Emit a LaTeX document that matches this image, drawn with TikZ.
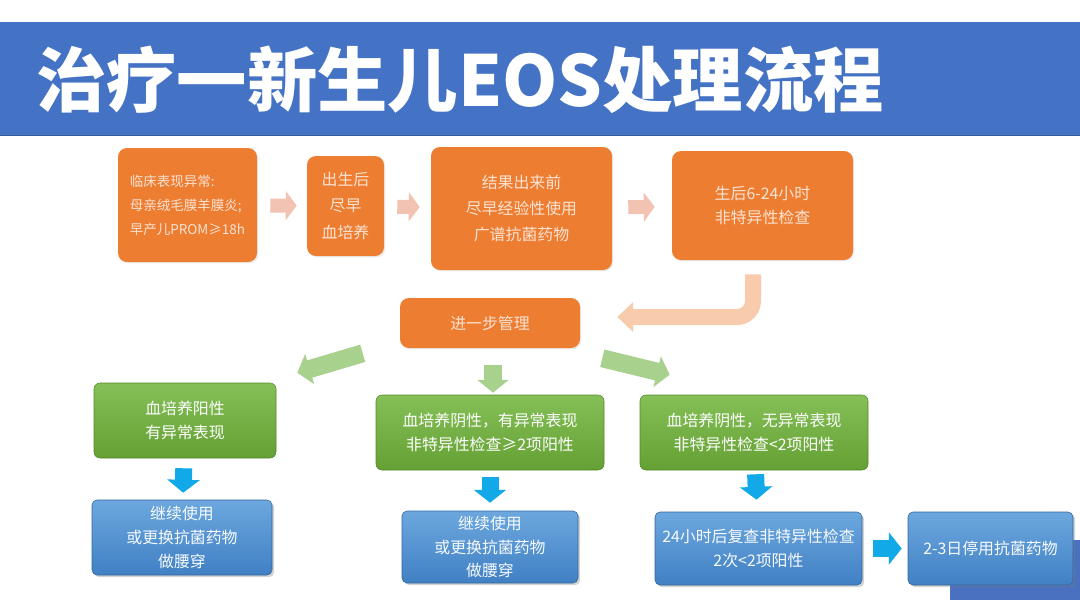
\documentclass[tikz,border=0pt]{standalone}
\usepackage{fontspec}
\usepackage{tikz}
\usetikzlibrary{arrows.meta,shadows}
\newfontfamily\cjk{Noto Sans CJK SC}
\newlength\pxu
\setlength\pxu{0.025cm}
\definecolor{titleblue}{HTML}{4472C4}
\definecolor{boxorange}{HTML}{ED7D31}
\definecolor{orangetext}{HTML}{FBE3D4}
\definecolor{palearrow}{HTML}{F2C2B2}
\definecolor{bentcolor}{HTML}{F8CBAD}
\definecolor{gtop}{HTML}{84C057}
\definecolor{gbot}{HTML}{64A033}
\definecolor{grarrowcol}{HTML}{A9D18E}
\definecolor{btop}{HTML}{6CA7DE}
\definecolor{bbot}{HTML}{4080C4}
\definecolor{blarrowcol}{HTML}{12A9E8}
\definecolor{cornerblue}{HTML}{4A70C0}

\begin{document}
\begin{tikzpicture}[x=1\pxu,y=-1\pxu,
obox/.style n args={2}{fill=boxorange,text=orangetext,rounded corners=9\pxu,minimum width=#1\pxu,minimum height=#2\pxu,align=center,font=\cjk\fontsize{11.3}{18}\selectfont,drop shadow={opacity=0.15,shadow xshift=1pt,shadow yshift=-1pt}},
gbox/.style n args={2}{top color=gtop,bottom color=gbot,draw=gbot!85!black,line width=0.4pt,text=white,rounded corners=6\pxu,minimum width=#1\pxu,minimum height=#2\pxu,align=center,font=\cjk\fontsize{11.3}{17.5}\selectfont},
bbox/.style n args={2}{top color=btop,bottom color=bbot,draw=bbot!80!black,line width=0.4pt,text=white!95!btop,rounded corners=5\pxu,minimum width=#1\pxu,minimum height=#2\pxu,align=center,font=\cjk\fontsize{11.3}{17}\selectfont,drop shadow={opacity=0.35,shadow xshift=1.5pt,shadow yshift=-1.5pt}},
parrow/.style={draw=palearrow,line width=14\pxu,-{Triangle[width=20.5pt,length=7.8pt]}},
bentarrow/.style={draw=bentcolor,line width=16\pxu,rounded corners=16\pxu,-{Triangle[width=20.5pt,length=11.3pt]}},
grarrow/.style={draw=grarrowcol,line width=18\pxu,-{Triangle[width=22pt,length=9.2pt]}},
blarrow/.style={draw=blarrowcol,line width=17\pxu,-{Triangle[width=22.7pt,length=9.2pt]}}]
\useasboundingbox (0,0) rectangle (1080,608);

% title bar
\fill[titleblue] (0,22) rectangle (1080,135);
\draw[titleblue!80!black,line width=1\pxu] (0,135) -- (1080,135);
\node[anchor=west,inner sep=0pt,text=white,font=\cjk\bfseries\fontsize{50}{50}\selectfont] (title) at (36,80) {治疗一新生儿EOS处理流程};

% first row
\node[obox={139}{114},align=left,font=\cjk\fontsize{9.6}{17}\selectfont] (c1) at (187.5,205) {临床表现异常:\\母亲绒毛膜羊膜炎;\\早产儿PROM≥18h};
\node[obox={77}{100},font=\cjk\fontsize{11.3}{19}\selectfont] (c2) at (345.5,206) {出生后\\尽早\\血培养};
\node[obox={181}{123},font=\cjk\fontsize{11.3}{18.5}\selectfont] (c3) at (521.5,208.5) {结果出来前\\尽早经验性使用\\广谱抗菌药物};
\node[obox={181}{109},font=\cjk\fontsize{11.3}{16.5}\selectfont] (c4) at (762.5,205.5) {生后6-24小时\\非特异性检查};
\node[obox={180}{50}] (mg) at (490,323) {进一步管理};

\foreach \a/\b/\s/\e in {c1/c2/13/10,c2/c3/13/11,c3/c4/16/17}{
   \draw[parrow,shorten <=\s\pxu,shorten >=\e\pxu] (\a) -- (\b);
}
\draw[bentarrow,shorten <=14\pxu,shorten >=37\pxu] ([xshift=-9.5\pxu]c4.south) |- ([yshift=6\pxu]mg.east);

% green row
\node[gbox={182}{75}] (g1) at (185,420.5) {血培养阳性\\有异常表现};
\node[gbox={228}{75}] (g2) at (490,432.5) {血培养阴性，有异常表现\\非特异性检查≥2项阳性};
\node[gbox={228}{75}] (g3) at (754,432.5) {血培养阴性，无异常表现\\非特异性检查<2项阳性};

\draw[grarrow] ([xshift=-37\pxu,yshift=-5\pxu]mg.south west) -- ([xshift=21\pxu,yshift=10\pxu]g1.north east);
\draw[grarrow,shorten <=17\pxu,shorten >=2\pxu] ([xshift=3\pxu]mg.south) -- ([xshift=3\pxu]g2.north);
\draw[grarrow] ([xshift=22\pxu,yshift=-10\pxu]mg.south east) -- ([xshift=30\pxu,yshift=20\pxu]g3.north west);

% blue row
\fill[cornerblue] (950,540) rectangle (1080,600);
\node[bbox={180}{75}] (b1) at (182,537.5) {继续使用\\或更换抗菌药物\\做腰穿};
\node[bbox={176}{72}] (b2) at (490,547) {继续使用\\或更换抗菌药物\\做腰穿};
\node[bbox={207}{73}] (b3) at (758.5,548.5) {24小时后复查非特异性检查\\2次<2项阳性};
\node[bbox={165}{73}] (b4) at (990.5,548.5) {2-3日停用抗菌药物};

\foreach \a/\b/\s/\e in {g1/b1/10/7,g2/b2/7/8,g3/b3/4/12,b3/b4/11/6}{
   \draw[blarrow,shorten <=\s\pxu,shorten >=\e\pxu] (\a) -- (\b);
}
\end{tikzpicture}
\end{document}
